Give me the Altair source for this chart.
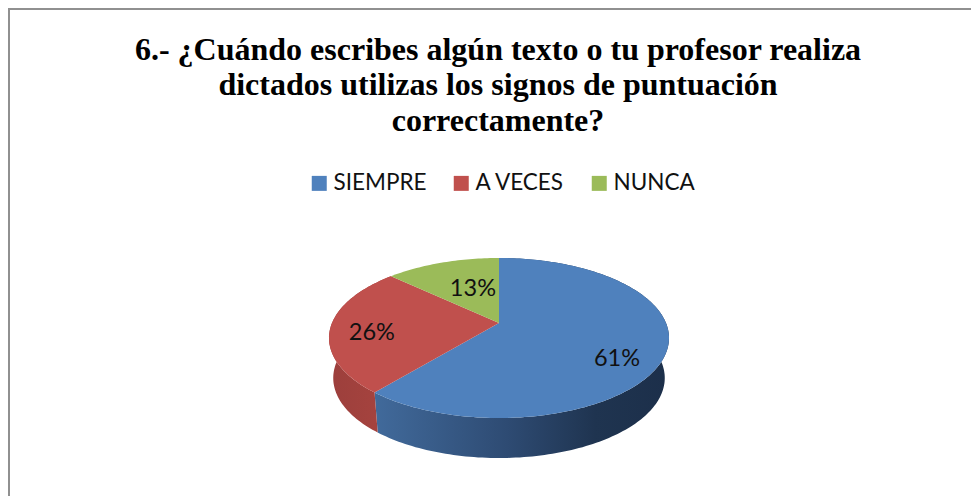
import math
import altair as alt

categories = ["SIEMPRE", "A VECES", "NUNCA"]
values = [61, 26, 13]
colors = ["#4f81bd", "#c0504d", "#9bbb59"]
title_lines = [
    "6.- ¿Cuándo escribes algún texto o tu profesor realiza",
    "dictados utilizas los signos de puntuación",
    "correctamente?",
]
clipped_caption = "Gráfico N° 6 Signos de puntuación"

W, H = 963, 488
CX, CY, RX, H_BACK, K = 491.0, 315.0, 167.0, 77.2, -0.1875
DEPTH, SHRINK = 40.0, 0.975
LABEL_NUDGE = [(14, 19), (-4, 6), (9, 3)]


def top_pt(a):
    X, Y = math.sin(a), math.cos(a)
    d = 1 - K * Y
    return (CX + RX * X / d, CY - H_BACK * Y / d)


def low_pt(a):
    x, y = top_pt(a)
    return (CX + (x - CX) * SHRINK, y + DEPTH)


def feature(name, ring):
    return {
        "type": "Feature",
        "properties": {"name": name},
        "geometry": {"type": "Polygon", "coordinates": [[list(p) for p in ring]]},
    }


tops, walls = [], []
start = 0.0
total = sum(values)
for name, v in zip(categories, values):
    a0 = start / total * 2 * math.pi
    a1 = (start + v) / total * 2 * math.pi
    n = max(8, int(v * 3))
    angs = [a0 + (a1 - a0) * i / n for i in range(n + 1)]
    tops.append(feature(name, [(CX, CY)] + [top_pt(a) for a in angs] + [(CX, CY)]))
    ring = [top_pt(a) for a in angs] + [low_pt(a) for a in reversed(angs)]
    walls.append(feature(name, ring + [ring[0]]))
    start += v

proj = alt.Projection(type="identity", scale=1, translate=[0, 0])


def geo(features, **mark):
    return alt.Chart(alt.Data(values=features)).mark_geoshape(stroke=None, **mark).project(**proj.to_dict())


wall_blue = geo([walls[0]], fill=alt.Gradient(
    gradient="linear", x1=0, x2=1, y1=0, y2=0,
    stops=[alt.GradientStop(color="#416a9b", offset=0),
           alt.GradientStop(color="#2e4b73", offset=0.45),
           alt.GradientStop(color="#1f3450", offset=0.75),
           alt.GradientStop(color="#1c2f4a", offset=1)]))
wall_red = geo([walls[1]], fill=alt.Gradient(
    gradient="linear", x1=0, x2=1, y1=0, y2=0,
    stops=[alt.GradientStop(color="#9c3f3c", offset=0),
           alt.GradientStop(color="#a8443f", offset=1)]))
surface = geo(tops).encode(
    color=alt.Color(
        "properties.name:N",
        scale=alt.Scale(domain=categories, range=colors),
        legend=alt.Legend(
            title=None, orient="none", legendX=300, legendY=164, direction="horizontal",
            symbolType="square", symbolSize=225, symbolStrokeWidth=0, symbolOpacity=1,
            labelFont="Lato", labelFontSize=22.5, labelColor="#111111", labelLimit=200,
            columnPadding=23, labelOffset=3, columns=3,
        ),
    )
)

px = alt.Scale(domain=[0, W], range=[0, W])
py = alt.Scale(domain=[0, H], range=[0, H])

title_rows = [{"t": t, "x": 490, "y": y} for t, y in zip(title_lines, [52, 87, 123])]
titles = alt.Chart(alt.Data(values=title_rows)).mark_text(
    font="Liberation Serif", fontWeight="bold", fontSize=32, color="#000000",
    align="center", baseline="alphabetic",
).encode(x=alt.X("x:Q", scale=px, axis=None), y=alt.Y("y:Q", scale=py, axis=None), text="t:N")

caption = alt.Chart(alt.Data(values=[{"t": clipped_caption, "x": 480, "y": -8}])).mark_text(
    font="Liberation Serif", fontSize=24, color="#000000", align="center", baseline="alphabetic",
).encode(x=alt.X("x:Q", scale=px, axis=None), y=alt.Y("y:Q", scale=py, axis=None), text="t:N")

labels = []
start = 0.0
for name, v, r, (dx, dy) in zip(categories, values, [0.62, 0.73, 0.62], LABEL_NUDGE):
    mid = (start + v / 2) / total * 2 * math.pi
    x, y = top_pt(mid)
    labels.append({"t": f"{v}%", "x": CX + (x - CX) * r + dx, "y": CY + (y - CY) * r + dy})
    start += v
label_layer = alt.Chart(alt.Data(values=labels)).mark_text(
    font="Lato", fontSize=23.5, color="#111111", align="center", baseline="middle",
).encode(x=alt.X("x:Q", scale=px, axis=None), y=alt.Y("y:Q", scale=py, axis=None), text="t:N")

frame_left = alt.Chart(alt.Data(values=[{"a": 1}])).mark_rule(color="#909090", strokeWidth=2).encode(
    x=alt.value(1), y=alt.value(1), y2=alt.value(H))
frame_top = alt.Chart(alt.Data(values=[{"a": 1}])).mark_rule(color="#909090", strokeWidth=2).encode(
    y=alt.value(1), x=alt.value(0), x2=alt.value(W))

chart = alt.layer(
    frame_left, frame_top, caption, titles, wall_blue, wall_red, surface, label_layer
).resolve_scale(x="shared", y="shared").properties(
    width=W, height=H, padding=0, autosize=alt.AutoSizeParams(type="none"),
    background="white",
).configure_view(stroke=None)

chart.save("out.html", embed_options={"renderer": "svg", "actions": False})
